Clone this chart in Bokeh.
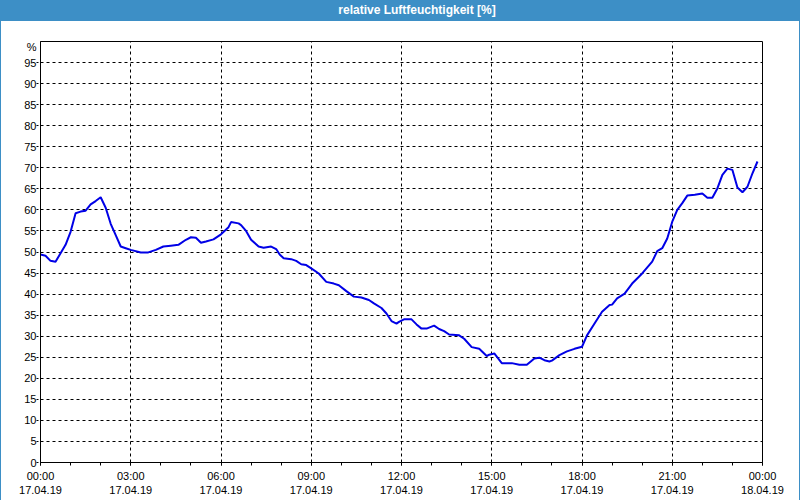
from bokeh.plotting import figure
from bokeh.models import FixedTicker, Div, Range1d
from bokeh.layouts import column
from bokeh.embed import file_html
from bokeh.resources import INLINE

# ---- data (minutes after 17.04.19 00:00, relative humidity in %) ----
minutes = [0, 10, 20, 30, 40, 50, 60, 70, 80, 90, 100, 110, 120, 130, 140, 150,
           160, 170, 180, 200, 215, 230, 245, 260, 275, 290, 300, 310, 320, 330,
           345, 360, 375, 380, 395, 400, 410, 420, 435, 445, 460, 470, 477, 485,
           500, 510, 520, 530, 540, 555, 570, 585, 595, 610, 625, 640, 655, 665,
           680, 690, 700, 710, 715, 725, 740, 750, 760, 770, 785, 795, 805, 815,
           835, 845, 860, 875, 890, 895, 905, 920, 940, 955, 970, 985, 995, 1005,
           1015, 1020, 1035, 1050, 1065, 1080, 1090, 1105, 1120, 1135, 1140, 1150,
           1165, 1180, 1200, 1220, 1230, 1240, 1250, 1260, 1270, 1280, 1290, 1305,
           1320, 1330, 1340, 1350, 1360, 1370, 1380, 1390, 1400, 1410, 1420, 1430]
rh = [49.4, 49.1, 47.9, 47.7, 49.7, 51.7, 54.8, 59.2, 59.6, 59.8, 61.3, 62.1,
      63.0, 60.5, 56.7, 54.0, 51.3, 50.9, 50.5, 49.9, 49.9, 50.5, 51.3, 51.5,
      51.7, 52.9, 53.5, 53.4, 52.2, 52.5, 53.0, 54.2, 55.9, 57.1, 56.8, 56.4,
      55.0, 52.9, 51.3, 51.0, 51.3, 50.7, 49.4, 48.5, 48.3, 47.9, 47.1, 46.9,
      46.1, 44.9, 42.9, 42.5, 42.1, 40.7, 39.4, 39.2, 38.6, 37.8, 36.7, 35.4,
      33.6, 33.0, 33.4, 34.0, 34.0, 32.8, 31.8, 31.8, 32.5, 31.7, 31.2, 30.4,
      30.2, 29.4, 27.4, 27.0, 25.3, 25.6, 25.9, 23.6, 23.6, 23.2, 23.2, 24.7,
      24.9, 24.3, 24.0, 24.2, 25.5, 26.4, 27.0, 27.5, 30.2, 33.0, 35.8, 37.4,
      37.5, 39.0, 40.1, 42.5, 44.9, 47.7, 50.2, 50.9, 53.2, 57.2, 60.0, 61.6,
      63.4, 63.6, 63.9, 62.9, 62.9, 65.1, 68.3, 69.8, 69.5, 65.3, 64.2, 65.5,
      68.7, 71.5]

x_ticks = [0, 3, 6, 9, 12, 15, 18, 21, 24]
x_tick_times = ["00:00", "03:00", "06:00", "09:00", "12:00", "15:00", "18:00", "21:00", "00:00"]
x_tick_dates = ["17.04.19"] * 8 + ["18.04.19"]
y_ticks = [0, 5, 10, 15, 20, 25, 30, 35, 40, 45, 50, 55, 60, 65, 70, 75, 80, 85, 90, 95]
y_unit = "%"
y_unit_pos = 98.7
title_text = "relative Luftfeuchtigkeit [%]"

hours = [m / 60 for m in minutes]

FONT = "Liberation Sans"
BLUE = "#3d8fc6"

p = figure(frame_width=720, frame_height=420, output_backend="svg",
           toolbar_location=None, x_range=Range1d(0, 24), y_range=Range1d(0, 100),
           min_border_left=39, min_border_right=39, min_border_top=20,
           min_border_bottom=39)
p.background_fill_color = "white"
p.border_fill_color = "white"
p.outline_line_color = "black"
p.outline_line_width = 1

p.line(hours, rh, line_color="#0000e6", line_width=2)

# grids
p.xgrid.ticker = FixedTicker(ticks=x_ticks[1:-1])
p.ygrid.ticker = FixedTicker(ticks=y_ticks[1:])
for g in (p.xgrid, p.ygrid):
    g.grid_line_color = "black"
    g.grid_line_dash = "3 3"
    g.grid_line_width = 1

# x axis
xa = p.xaxis[0]
xa.ticker = FixedTicker(ticks=x_ticks, minor_ticks=list(range(25)))
xa.major_label_overrides = {t: f"{a}\n{b}" for t, a, b in zip(x_ticks, x_tick_times, x_tick_dates)}
xa.major_tick_out = 3
xa.major_tick_in = 0
xa.minor_tick_out = 3
xa.minor_tick_in = 0
xa.major_label_standoff = 4
xa.axis_line_color = "black"
xa.major_tick_line_color = "black"
xa.minor_tick_line_color = "black"
xa.major_label_text_font = FONT
xa.major_label_text_font_size = "11px"
xa.major_label_text_color = "black"

# y axis: labels on (invisible) major ticks incl. the unit, dashed marks as minor ticks
ya = p.yaxis[0]
ya.ticker = FixedTicker(ticks=y_ticks + [y_unit_pos], minor_ticks=y_ticks)
ya.major_label_overrides = {y_unit_pos: y_unit}
ya.major_tick_out = 4
ya.major_tick_in = 0
ya.major_tick_line_color = None
ya.minor_tick_out = 4
ya.minor_tick_in = 0
ya.minor_tick_line_color = "black"
ya.minor_tick_line_dash = "2 2"
ya.major_label_standoff = 0
ya.axis_line_color = "black"
ya.major_label_text_font = FONT
ya.major_label_text_font_size = "11px"
ya.major_label_text_color = "black"

p.styles = {"border-left": f"1px solid {BLUE}", "border-right": f"1px solid {BLUE}",
            "border-bottom": f"1px solid {BLUE}"}

title_div = Div(text=title_text, width=800, height=21, margin=0,
                styles={"background-color": BLUE, "color": "white",
                        "font-family": FONT, "font-weight": "bold",
                        "font-size": "12px", "text-align": "center",
                        "line-height": "21px", "padding-left": "34px",
                        "box-sizing": "border-box"})

layout = column(title_div, p, spacing=0)
open("out.html", "w").write(file_html(layout, INLINE))
